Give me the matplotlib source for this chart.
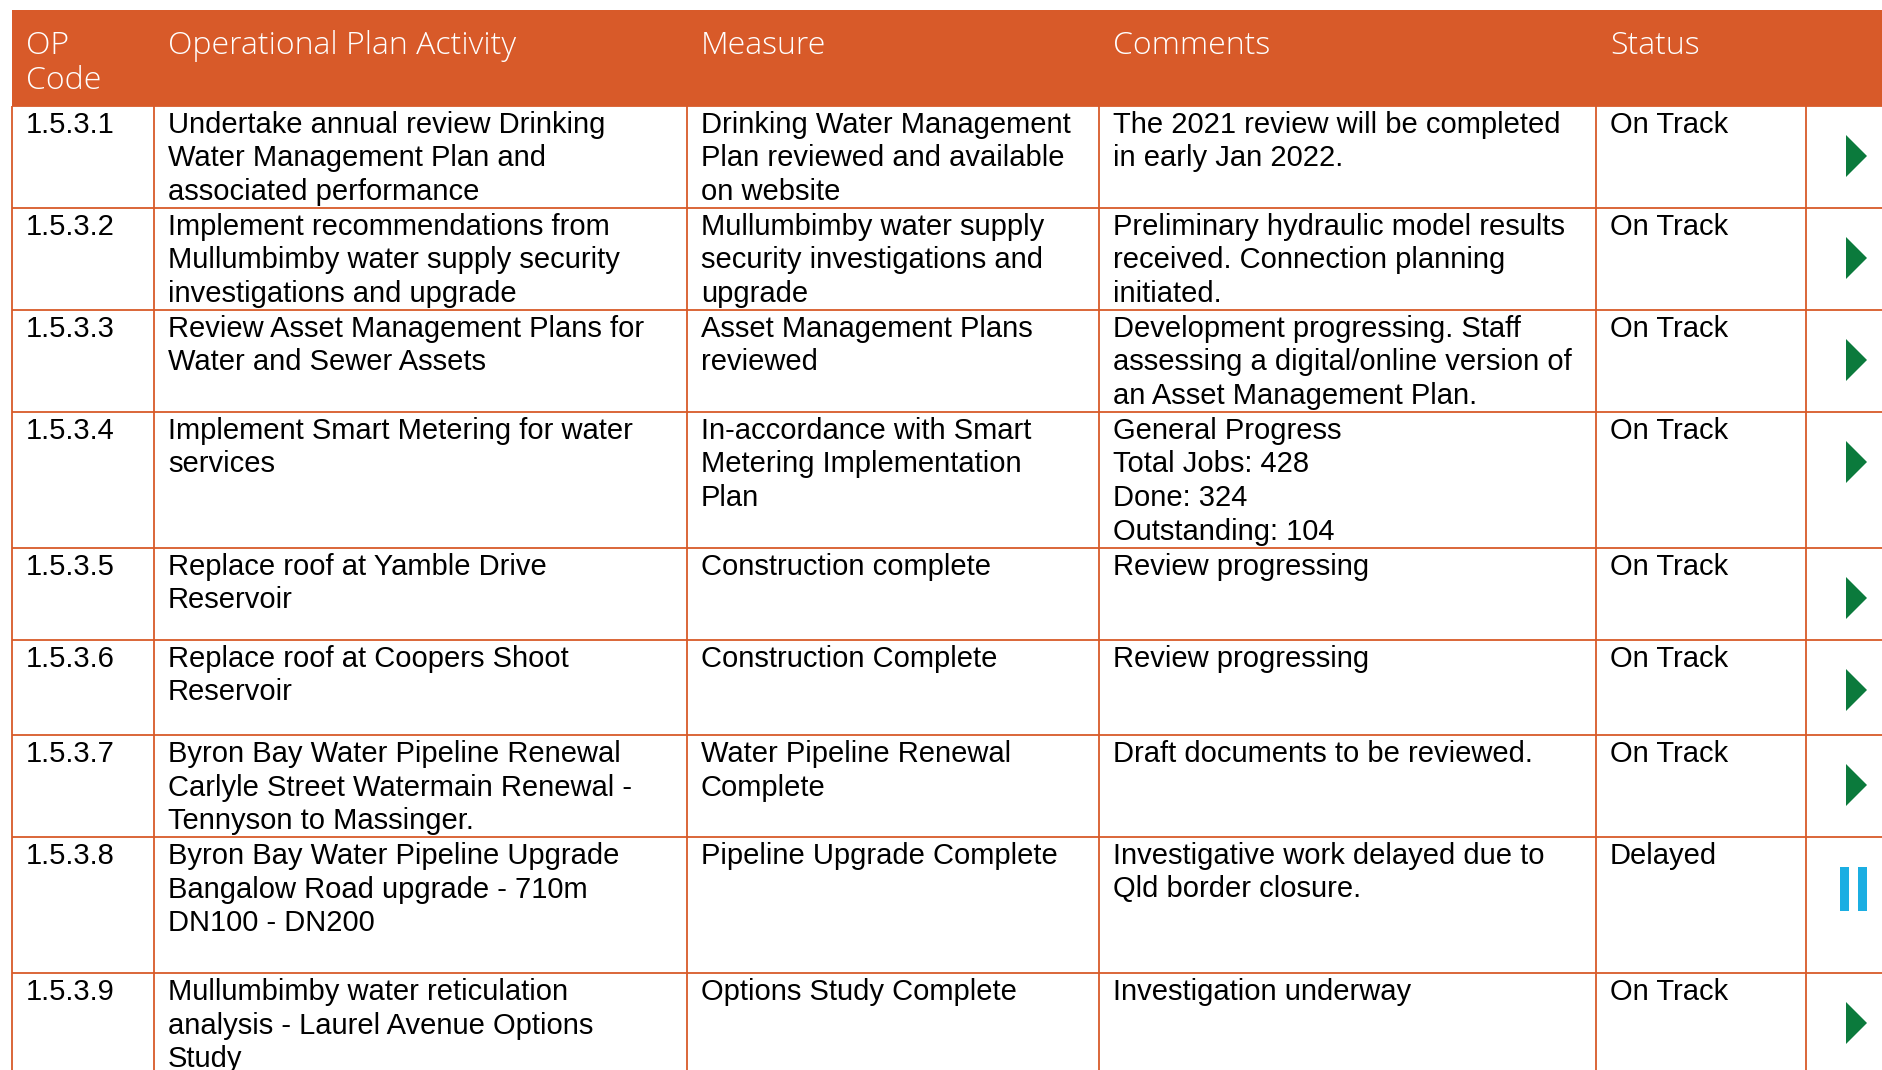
import matplotlib
matplotlib.use("Agg")
import matplotlib.pyplot as plt
from matplotlib.patches import Rectangle, Polygon

# table content
headers = ["OP\nCode", "Operational Plan Activity", "Measure", "Comments", "Status"]
codes = ["1.5.3.1", "1.5.3.2", "1.5.3.3", "1.5.3.4", "1.5.3.5",
         "1.5.3.6", "1.5.3.7", "1.5.3.8", "1.5.3.9"]
activities = [
    "Undertake annual review Drinking\nWater Management Plan and\nassociated performance",
    "Implement recommendations from\nMullumbimby water supply security\ninvestigations and upgrade",
    "Review Asset Management Plans for\nWater and Sewer Assets",
    "Implement Smart Metering for water\nservices",
    "Replace roof at Yamble Drive\nReservoir",
    "Replace roof at Coopers Shoot\nReservoir",
    "Byron Bay Water Pipeline Renewal\nCarlyle Street Watermain Renewal -\nTennyson to Massinger.",
    "Byron Bay Water Pipeline Upgrade\nBangalow Road upgrade - 710m\nDN100 - DN200",
    "Mullumbimby water reticulation\nanalysis - Laurel Avenue Options\nStudy",
]
measures = [
    "Drinking Water Management\nPlan reviewed and available\non website",
    "Mullumbimby water supply\nsecurity investigations and\nupgrade",
    "Asset Management Plans\nreviewed",
    "In-accordance with Smart\nMetering Implementation\nPlan",
    "Construction complete",
    "Construction Complete",
    "Water Pipeline Renewal\nComplete",
    "Pipeline Upgrade Complete",
    "Options Study Complete",
]
comments = [
    "The 2021 review will be completed\nin early Jan 2022.",
    "Preliminary hydraulic model results\nreceived. Connection planning\ninitiated.",
    "Development progressing. Staff\nassessing a digital/online version of\nan Asset Management Plan.",
    "General Progress\nTotal Jobs: 428\nDone: 324\nOutstanding: 104",
    "Review progressing",
    "Review progressing",
    "Draft documents to be reviewed.",
    "Investigative work delayed due to\nQld border closure.",
    "Investigation underway",
]
statuses = ["On Track", "On Track", "On Track", "On Track", "On Track",
            "On Track", "On Track", "Delayed", "On Track"]

# layout (pixels)
W, H = 1883, 1070
col_edges = [12, 154, 687, 1099, 1596, 1806]
row_edges = [106, 208, 310, 412, 548, 640, 735, 837, 973, 1120]
header_top = 9.5
pad = 14
line_h = 33.5

orange = "#D85A29"
green = "#0B7A3C"
blue = "#1BAEE2"

fig = plt.figure(figsize=(W / 100, H / 100), dpi=100)
ax = fig.add_axes([0, 0, 1, 1])
ax.set_xlim(0, W)
ax.set_ylim(H, 0)
ax.axis("off")

# header band
ax.add_patch(Rectangle((col_edges[0], header_top), W - col_edges[0],
                       row_edges[0] - header_top, color=orange, lw=0))
for i, h in enumerate(headers):
    for j, line in enumerate(h.split("\n")):
        ax.text(col_edges[i] + pad, 54 + j * 35, line, color="white",
                fontsize=23, family="Open Sans", fontweight="light",
                va="baseline", ha="left")

# grid
for y in row_edges[:-1]:
    ax.plot([col_edges[0], W], [y, y], color=orange, lw=1.3, solid_capstyle="butt")
for x in col_edges:
    ax.plot([x, x], [row_edges[0], H], color=orange, lw=1.3, solid_capstyle="butt")

# body
for r in range(len(codes)):
    top = row_edges[r]
    cells = [codes[r], activities[r], measures[r], comments[r], statuses[r]]
    for c, txt in enumerate(cells):
        for j, line in enumerate(txt.split("\n")):
            ax.text(col_edges[c] + pad, top + 27 + j * line_h, line,
                    fontsize=21, family="Liberation Sans", color="black",
                    va="baseline", ha="left")
    if statuses[r] == "On Track":
        cy = top + 50
        ax.add_patch(Polygon([[1846, cy - 21], [1867, cy], [1846, cy + 21]],
                             closed=True, color=green, lw=0))
    else:
        ax.add_patch(Rectangle((1840, top + 30), 9, 44, color=blue, lw=0))
        ax.add_patch(Rectangle((1858, top + 30), 9, 44, color=blue, lw=0))

fig.savefig("out.png", dpi=100)
